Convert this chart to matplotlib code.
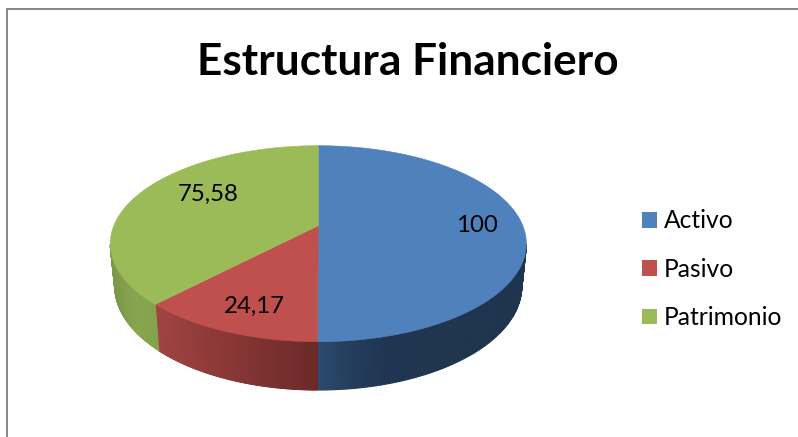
import numpy as np
import matplotlib
matplotlib.use("Agg")
import matplotlib.pyplot as plt
from matplotlib.colors import to_rgb
from matplotlib.patches import Patch

title = "Estructura Financiero"
categories = ["Activo", "Pasivo", "Patrimonio"]
values = [100, 24.17, 75.58]
value_labels = ["100", "24,17", "75,58"]
colors = ["#4F81BD", "#C0504D", "#9BBB59"]

plt.rcParams["font.family"] = ["Lato", "DejaVu Sans"]
W, H = 798, 437
fig = plt.figure(figsize=(W / 100, H / 100), dpi=100, facecolor="white")
ax = fig.add_axes([0, 0, 1, 1])
ax.set_xlim(0, W)
ax.set_ylim(H, 0)
ax.axis("off")

# perspective disc geometry (pixels)
cx, cy, a, b, k, depth, shrink = 318.3, 225.7, 204.5, 94.7, 0.1837, 41.5, 0.978


def project(phi):
    u, v = np.sin(phi), -np.cos(phi)
    s = 1 / (1 - k * v)
    return a * u * s, b * v * s, depth * s


def top_pt(phi):
    x, y, _ = project(phi)
    return cx + x, cy + y


def bottom_pt(phi):
    x, y, d = project(phi)
    return cx + x * shrink, cy + y * shrink + d


wall_stops = [
    ([318, 345, 385, 530], ["#2c4a70", "#263f5e", "#1f3551", "#1f344e"]),
    ([155, 318], ["#a14442", "#6b2928"]),
    ([110, 135, 160], ["#7a9646", "#88a650", "#84a14c"]),
]


def wall_color(i, x):
    xs, cs = wall_stops[i]
    rgb = np.array([to_rgb(c) for c in cs])
    return tuple(np.interp(x, xs, rgb[:, j]) for j in range(3))


edges = np.radians(np.concatenate([[0], np.cumsum(values)]) / np.sum(values) * 360)

# side wall, painted from the back towards the front
for i in range(len(values)):
    phis = np.linspace(edges[i], edges[i + 1], 260)
    phis = phis[-np.cos(phis) >= k]
    quads = list(zip(phis[:-1], phis[1:]))
    quads.sort(key=lambda q: -np.cos(q[0]))
    for p0, p1 in quads:
        tx0, ty0 = top_pt(p0)
        tx1, ty1 = top_pt(p1)
        bx0, by0 = bottom_pt(p0)
        bx1, by1 = bottom_pt(p1)
        c = wall_color(i, (tx0 + tx1) / 2)
        ax.fill([tx0, tx1, bx1, bx0], [ty0, ty1, by1, by0], color=c, lw=0.8, zorder=1)

# top face
for i, col in enumerate(colors):
    phis = np.linspace(edges[i], edges[i + 1], 300)
    x, y = top_pt(phis)
    ax.fill(np.r_[cx, x], np.r_[cy, y], color=col, lw=0.4, zorder=2)

# value labels
label_pos = [(477, 226), (254, 306), (208, 194)]
for (lx, ly), s in zip(label_pos, value_labels):
    ax.text(lx, ly, s, fontsize=17.3, color="black", ha="center", va="center", zorder=3)

ax.text(408, 62, title, fontsize=31.8, fontweight="bold", color="black",
        ha="center", va="center")

# frame: only top and left edges are in view
ax.plot([6.5, 6.5, W], [H, 9, 9], color="#868686", lw=1.4, solid_joinstyle="miter", clip_on=False)

handles = [Patch(facecolor=c, edgecolor="none") for c in colors]
ax.legend(handles, categories, loc="upper left", bbox_to_anchor=(642 / W, 1 - 209.5 / H),
          frameon=False, fontsize=17.7, handlelength=0.61, handleheight=0.61,
          handletextpad=0.28, labelspacing=1.03, borderpad=0, borderaxespad=0)

fig.savefig("out.png", dpi=100, facecolor="white")
